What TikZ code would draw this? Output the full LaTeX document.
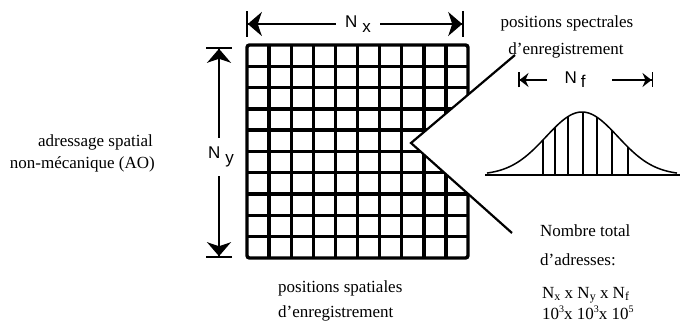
\documentclass[tikz,border=0pt]{standalone}
\usepackage{fontspec}
\setmainfont{Liberation Serif}
\newfontfamily\lsans{Liberation Sans}
\usetikzlibrary{arrows.meta}
\newcommand{\mysub}[1]{\raisebox{-2.5pt}{\fontsize{12}{12}\selectfont #1}}
\newcommand{\mysup}[1]{\raisebox{6.5pt}{\fontsize{10}{10}\selectfont #1}}
\tikzset{
  txt/.style={font=\fontsize{17}{20}\selectfont, inner sep=0pt},
  nlab/.style={font=\lsans\fontsize{17}{20}\selectfont, fill=white, inner sep=0pt},
  gridline/.style={line width=3.4pt},
  bigtip/.tip={Stealth[length=14pt,width=24pt,inset=4pt]},
  bigbar/.tip={Bar[width=26pt,line width=1.8pt]},
  smalltip/.tip={Stealth[length=9pt,width=14pt,inset=3pt]},
  smallbar/.tip={Bar[width=15pt,line width=1.5pt]},
  bigdim/.style={line width=1.6pt, {bigbar[]bigtip[]}-{bigtip[]bigbar[]}},
  smalldim/.style={line width=1.4pt, -{smalltip[]smallbar[]}},
  cone/.style={line width=2.2pt},
  curve/.style={line width=1.5pt},
  vline/.style={line width=1.3pt}
}
\begin{document}
\begin{tikzpicture}[x=1pt,y=-1pt]
\useasboundingbox (0,0) rectangle (683,326);
% grid
\def\gl{247}\def\gr{468}\def\gt{45}\def\gb{258}
\node[draw, line width=3.4pt, rounded corners=2.5pt, minimum width=221pt, minimum height=213pt, inner sep=0pt, outer sep=0pt] (grid) at (357.5,151.5) {};
\foreach \i in {1,...,9} \draw[gridline] ({\gl+\i*22.1},\gt) -- ({\gl+\i*22.1},\gb);
\foreach \j in {1,...,9} \draw[gridline] (\gl,{\gt+\j*21.3}) -- (\gr,{\gt+\j*21.3});
% cone
\coordinate (apex) at (411,143);
\coordinate (ctop) at (515,55);
\coordinate (cbot) at (512,233);
\fill[white] (apex) -- (ctop) -- (cbot) -- cycle;
\draw[cone] (ctop) -- (apex) -- (cbot);
% Nx arrow
\coordinate (nxl) at (246,24);
\coordinate (nxr) at (464,24);
\draw[bigdim] (nxl) -- (nxr);
\node[nlab, inner xsep=9pt, inner ysep=2pt] (nx) at (358,24) {N\hspace{5pt}\raisebox{-5pt}{x}};
% Ny arrow
\coordinate (nyt) at (219,47);
\coordinate (nyb) at (219,258);
\draw[bigdim] (nyt) -- (nyb);
\node[nlab, inner ysep=9pt, inner xsep=1pt] (ny) at (221,157) {N\hspace{5pt}\raisebox{-5pt}{y}};
% Nf arrows
\node[nlab, inner sep=1pt] (nf) at (575,80) {N\hspace{4pt}\raisebox{-4pt}{f}};
\coordinate (nfl) at (518,80);
\coordinate (nfr) at (653,80);
\coordinate (nfla) at (547,80);
\coordinate (nfra) at (612,80);
\draw[smalldim] (nfla) -- (nfl);
\draw[smalldim] (nfra) -- (nfr);
% gaussian
\coordinate (bl) at (485,175);
\coordinate (br) at (680,175);
\draw[curve] (bl) -- (br);
\draw[curve] plot[domain=-95:95,samples=100] ({582+\x},{175-63*exp(-(\x*\x)/2592)});
\foreach \v in {543,555,568,583,597,612,628}
  \draw[vline] (\v,175) -- (\v,{175-63*exp(-((\v-582)*(\v-582))/2592)});
% texts
\node[txt, anchor=base] (spec1) at (567,28) {positions spectrales};
\node[txt, anchor=base] (spec2) at (566,55) {d'enregistrement};
\node[txt, anchor=base west] (spat1) at (278,292) {positions spatiales};
\node[txt, anchor=base west] (spat2) at (278,317) {d'enregistrement};
\node[txt, anchor=base east] (adr1) at (153,147) {adressage spatial};
\node[txt, anchor=base east] (adr2) at (155,168) {non-mécanique (AO)};
\node[txt, anchor=base west] (tot1) at (540,236) {Nombre total};
\node[txt, anchor=base west] (tot2) at (540,265) {d'adresses:};
\node[txt, anchor=base west] (form1) at (542,298) {N\mysub{x} x N\mysub{y} x N\mysub{f}};
\node[txt, anchor=base west] (form2) at (542,319) {10\mysup{3}x 10\mysup{3}x 10\mysup{5}};
\end{tikzpicture}
\end{document}
